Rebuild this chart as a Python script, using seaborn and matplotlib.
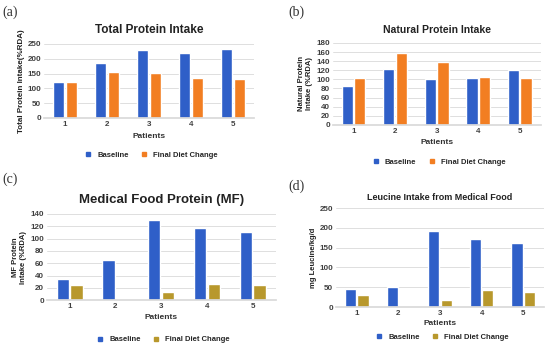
import matplotlib
matplotlib.use("Agg")
import matplotlib.pyplot as plt
import seaborn as sns
import pandas as pd

patients = ["1", "2", "3", "4", "5"]
groups = ["Baseline", "Final Diet Change"]

total_base = [120, 187, 230, 220, 232]
total_final = [121, 156, 153, 135, 130]
natural_base = [85, 123, 100, 103, 120]
natural_final = [103, 157, 139, 106, 103]
mf_base = [35, 65, 130, 117, 111]
mf_final = [24, 0, 13, 27, 25]
leu_base = [45, 51, 193, 173, 162]
leu_final = [31, 0, 19, 43, 39]

blue = "#2F5FC8"
orange = "#F27E22"
olive = "#B8982C"

sns.set_theme(style="white")
plt.rcParams["font.family"] = ["Liberation Sans", "DejaVu Sans"]

fig = plt.figure(figsize=(5.5, 3.49), dpi=100)


def panel(rect, base, final, color2, title, ylabel, ymax, step, tsize, lsize, legy, tpad, xpad):
    ax = fig.add_axes(rect)
    df = pd.DataFrame({
        "Patients": patients * 2,
        "value": base + final,
        "group": [groups[0]] * 5 + [groups[1]] * 5,
    })
    sns.barplot(data=df, x="Patients", y="value", hue="group",
                palette=[blue, color2], width=0.6, gap=0.1, ax=ax,
                saturation=1, legend=False)
    ax.set_ylim(0, ymax)
    ax.set_yticks(range(0, ymax + 1, step))
    ax.yaxis.grid(True, color="#d9d9d9", lw=0.6)
    ax.set_axisbelow(True)
    for s in ["top", "right", "left"]:
        ax.spines[s].set_visible(False)
    ax.spines["bottom"].set_color("#d9d9d9")
    ax.tick_params(axis="both", labelsize=5.8, length=0, pad=2, colors="#404040")
    for t in ax.get_xticklabels() + ax.get_yticklabels():
        t.set_fontweight("bold")
    ax.set_title(title, fontsize=tsize, fontweight="bold", color="#222222", pad=tpad)
    ax.set_xlabel("Patients", fontsize=6, fontweight="bold", color="#333333", labelpad=xpad)
    ax.set_ylabel(ylabel, fontsize=lsize, fontweight="bold", color="#222222", labelpad=2)
    handles = [plt.Line2D([], [], marker="s", ls="", color=c, markersize=3)
               for c in (blue, color2)]
    ax.legend(handles, groups, loc="center", bbox_to_anchor=(0.5, legy),
              ncol=2, frameon=False, handletextpad=0.2,
              columnspacing=1.0, prop={"weight": "bold", "size": 5.5})
    return ax


panel([0.080, 0.662, 0.382, 0.212], total_base, total_final, orange,
      "Total Protein Intake", "Total Protein Intake(%RDA)", 250, 50, 8.5, 5.8, -0.50, 8, 4)
panel([0.605, 0.642, 0.378, 0.235], natural_base, natural_final, orange,
      "Natural Protein Intake", "Natural Protein\nIntake (%RDA)", 180, 20, 7.5, 5.5, -0.45, 7, 3)
panel([0.085, 0.140, 0.416, 0.247], mf_base, mf_final, olive,
      "Medical Food Protein (MF)", "MF Protein\nIntake (%RDA)", 140, 20, 9.5, 5.5, -0.46, 8, 3)
panel([0.611, 0.120, 0.378, 0.284], leu_base, leu_final, olive,
      "Leucine Intake from Medical Food", "mg Leucine/kg/d", 250, 50, 6.5, 5.5, -0.30, 6, 2)

for x, y, s in [(0.005, 0.955, "(a)"), (0.525, 0.955, "(b)"),
                (0.005, 0.475, "(c)"), (0.525, 0.455, "(d)")]:
    fig.text(x, y, s, fontsize=10, family="Liberation Serif", color="#333333")

fig.savefig("out.png", dpi=100)
